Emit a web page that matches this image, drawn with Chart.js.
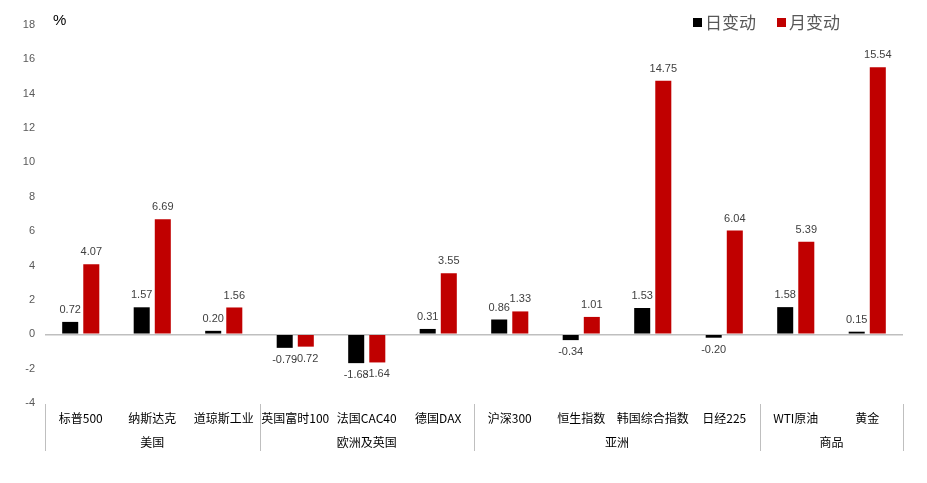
<!DOCTYPE html>
<html>
<head>
<meta charset="utf-8">
<script src="https://cdn.jsdelivr.net/npm/chart.js@4/dist/chart.umd.min.js"></script>
<style>
  html, body { margin: 0; padding: 0; background: #fff; }
  #wrap { width: 927px; height: 483px; }
</style>
</head>
<body>
<div id="wrap"><canvas id="chart"></canvas></div>
<script>
const categories = ['标普500', '纳斯达克', '道琼斯工业', '英国富时100', '法国CAC40', '德国DAX',
  '沪深300', '恒生指数', '韩国综合指数', '日经225', 'WTI原油', '黄金'];
const groups = ['美国', '欧洲及英国', '亚洲', '商品'];
const groupSizes = [3, 3, 4, 2];
const dailyChange = [0.72, 1.57, 0.20, -0.79, -1.68, 0.31, 0.86, -0.34, 1.53, -0.20, 1.58, 0.15];
const monthlyChange = [4.07, 6.69, 1.56, -0.72, -1.64, 3.55, 1.33, 1.01, 14.75, 6.04, 5.39, 15.54];
const seriesNames = ['日变动', '月变动'];

const FONT = '"Liberation Sans", "Noto Sans CJK SC", sans-serif';
const CJK = '"Noto Sans CJK SC", "Liberation Sans", sans-serif';

// value labels above / below each bar
const valueLabels = {
  id: 'valueLabels',
  afterDatasetsDraw(chart) {
    const ctx = chart.ctx;
    ctx.save();
    ctx.font = '11px ' + FONT;
    ctx.fillStyle = '#404040';
    ctx.textAlign = 'center';
    ctx.textBaseline = 'middle';
    chart.data.datasets.forEach((ds, di) => {
      chart.getDatasetMeta(di).data.forEach((bar, i) => {
        const v = ds.data[i];
        const y = v >= 0 ? bar.y - 12 : bar.y + 12;
        ctx.fillText(v.toFixed(2), bar.x, y);
      });
    });
    ctx.restore();
  }
};

// group separators, group names, legend and unit
const extras = {
  id: 'extras',
  afterDraw(chart) {
    const ctx = chart.ctx;
    const area = chart.chartArea;
    const step = (area.right - area.left) / categories.length;
    ctx.save();
    ctx.strokeStyle = '#bfbfbf';
    ctx.lineWidth = 1;
    let start = 0;
    const edges = [0];
    groupSizes.forEach(n => { start += n; edges.push(start); });
    edges.forEach(e => {
      const px = Math.round(area.left + e * step) + 0.5;
      ctx.beginPath();
      ctx.moveTo(px, area.bottom + 1);
      ctx.lineTo(px, area.bottom + 48);
      ctx.stroke();
    });
    ctx.font = '12px ' + CJK;
    ctx.fillStyle = '#000';
    ctx.textAlign = 'center';
    ctx.textBaseline = 'middle';
    groups.forEach((g, gi) => {
      const cx = area.left + (edges[gi] + edges[gi + 1]) / 2 * step;
      ctx.fillText(g, cx, area.bottom + 39);
    });

    // unit
    ctx.font = '15px ' + FONT;
    ctx.fillStyle = '#000';
    ctx.textAlign = 'left';
    ctx.fillText('%', 53, 21);

    // legend
    const colors = ['#000000', '#c00000'];
    const legendX = [693, 777];
    ctx.font = '17px ' + CJK;
    seriesNames.forEach((name, i) => {
      ctx.fillStyle = colors[i];
      ctx.fillRect(legendX[i], 18, 9, 9);
      ctx.fillStyle = '#595959';
      ctx.fillText(name, legendX[i] + 12, 23);
    });
    ctx.restore();
  }
};

new Chart(document.getElementById('chart'), {
  type: 'bar',
  data: {
    labels: categories,
    datasets: [
      { label: seriesNames[0], data: dailyChange, backgroundColor: '#000000' },
      { label: seriesNames[1], data: monthlyChange, backgroundColor: '#c00000' }
    ]
  },
  options: {
    responsive: true,
    maintainAspectRatio: false,
    animation: false,
    categoryPercentage: 0.59,
    barPercentage: 0.76,
    layout: { padding: { top: 25, right: 24, bottom: 0, left: 0 } },
    plugins: {
      legend: { display: false },
      tooltip: { enabled: false }
    },
    scales: {
      x: {
        grid: { display: false },
        border: { display: false },
        ticks: {
          color: '#000',
          font: { size: 12, family: CJK },
          padding: 0,
          maxRotation: 0,
          autoSkip: false
        },
        afterFit(scale) { scale.height = 80; }
      },
      y: {
        min: -4,
        max: 18,
        border: { display: false },
        grid: {
          drawTicks: false,
          lineWidth: 1.5,
          color: ctx => ctx.tick && ctx.tick.value === 0 ? '#bfbfbf' : 'rgba(0,0,0,0)'
        },
        ticks: {
          stepSize: 2,
          color: '#595959',
          font: { size: 11, family: FONT },
          padding: 10
        },
        afterFit(scale) { scale.width = 45; }
      }
    }
  },
  plugins: [valueLabels, extras]
});
</script>
</body>
</html>
